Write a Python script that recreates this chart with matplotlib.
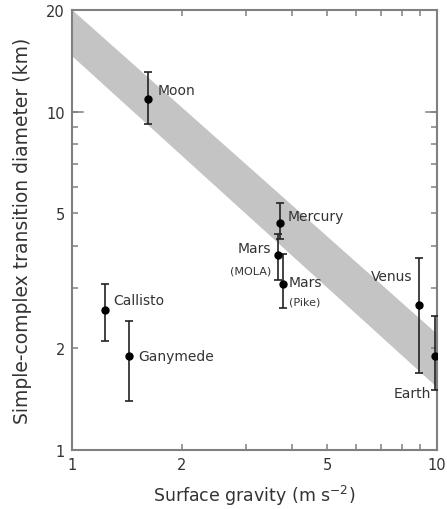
import matplotlib.pyplot as plt
import numpy as np
from matplotlib.ticker import FixedLocator, FixedFormatter, NullFormatter

# body, gravity (m s-2), transition diameter (km), error low / high
bodies = ['Moon', 'Mercury', 'Mars (MOLA)', 'Mars (Pike)', 'Callisto', 'Ganymede', 'Venus', 'Earth']
gravity = [1.62, 3.71, 3.66, 3.79, 1.23, 1.43, 8.91, 9.85]
diam = [10.9, 4.67, 3.76, 3.1, 2.59, 1.9, 2.68, 1.9]
diam_lo = [9.16, 4.19, 3.18, 2.62, 2.1, 1.39, 1.69, 1.5]
diam_hi = [13.1, 5.38, 4.34, 3.79, 3.1, 2.41, 3.68, 2.49]

# gray band edges at g = 1 and g = 10
band_g = [1.0, 10.0]
band_top = [20.0, 2.2]
band_bot = [14.6, 1.53]

plt.rcParams['font.family'] = 'DejaVu Sans'
txt = '#333333'
axc = '#808080'

fig = plt.figure(figsize=(4.47, 5.10), dpi=100)
ax = fig.add_axes([0.161, 0.116, 0.817, 0.863])

ax.fill_between(band_g, band_bot, band_top, color='#c4c4c4', lw=0, zorder=1)

yerr = [np.array(diam) - np.array(diam_lo), np.array(diam_hi) - np.array(diam)]
ax.errorbar(gravity, diam, yerr=yerr, fmt='o', color='black', ms=5,
            ecolor='#222222', elinewidth=1.2, capsize=3, capthick=1.2, zorder=3)

ax.set_xscale('log')
ax.set_yscale('log')
ax.set_xlim(1, 10)
ax.set_ylim(1, 20)

lab = dict(color=txt, fontsize=10)
ax.text(1.72, 11.6, 'Moon', va='center', ha='left', **lab)
ax.text(3.9, 4.9, 'Mercury', va='center', ha='left', **lab)
ax.text(3.52, 3.95, 'Mars', va='center', ha='right', **lab)
ax.text(3.52, 3.4, '(MOLA)', va='center', ha='right', color=txt, fontsize=8)
ax.text(3.93, 3.14, 'Mars', va='center', ha='left', **lab)
ax.text(3.93, 2.74, '(Pike)', va='center', ha='left', color=txt, fontsize=8)
ax.text(1.3, 2.78, 'Callisto', va='center', ha='left', **lab)
ax.text(1.52, 1.9, 'Ganymede', va='center', ha='left', **lab)
ax.text(8.55, 3.26, 'Venus', va='center', ha='right', **lab)
ax.text(9.6, 1.47, 'Earth', va='center', ha='right', **lab)

ax.xaxis.set_major_locator(FixedLocator([1, 2, 5, 10]))
ax.xaxis.set_major_formatter(FixedFormatter(['1', '2', '5', '10']))
ax.xaxis.set_minor_locator(FixedLocator([3, 4, 6, 7, 8, 9]))
ax.xaxis.set_minor_formatter(NullFormatter())
ax.yaxis.set_major_locator(FixedLocator([1, 2, 5, 10, 20]))
ax.yaxis.set_major_formatter(FixedFormatter(['1', '2', '5', '10', '20']))
ax.yaxis.set_minor_locator(FixedLocator([3, 4, 6, 7, 8, 9]))
ax.yaxis.set_minor_formatter(NullFormatter())

ax.tick_params(which='both', direction='in', top=True, right=True, color=axc,
               width=1.1, labelsize=10.5, labelcolor=txt, length=4, pad=5)
for s in ax.spines.values():
    s.set_color(axc)
    s.set_linewidth(1.5)

ax.set_xlabel('Surface gravity (m s$^{-2}$)', fontsize=12.5, color=txt, labelpad=8)
ax.set_ylabel('Simple-complex transition diameter (km)', fontsize=13.5, color=txt, labelpad=10)

# longer tick for 10 on y axis (left and right)
ax.plot([1, 1.07], [10, 10], color=axc, lw=1.1, clip_on=False, zorder=4)
ax.plot([10 / 1.07, 10], [10, 10], color=axc, lw=1.1, clip_on=False, zorder=4)

fig.savefig('out.png', dpi=100)
